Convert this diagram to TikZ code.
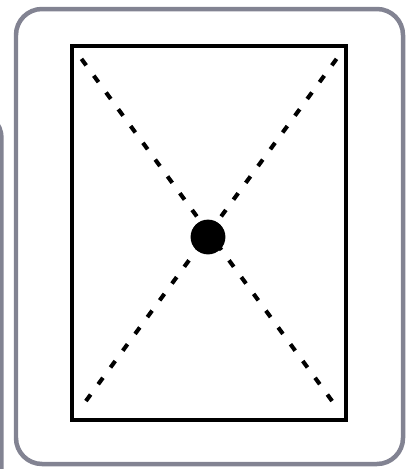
\documentclass[tikz,border=0pt]{standalone}
\definecolor{frameGray}{RGB}{130,131,146}
\begin{document}
\begin{tikzpicture}[x=0.025cm,y=-0.025cm,
    frame/.style={draw=frameGray,line width=3.2pt,rounded corners=0.65cm},
    diag/.style={line width=2.9pt,dash pattern=on 0.2cm off 0.32cm,
        shorten <=0.4cm,shorten >=0.35cm},
    dot/.style={circle,fill=black,inner sep=0pt,minimum size=0.87cm}]
            \useasboundingbox (0,0) rectangle (413,469);
            \draw[frame] (-40,112) -- (1.5,112) -- (1.5,500);
            \draw[frame] (16,9) rectangle (403,464);
            \coordinate (tl) at (72,46);
            \coordinate (tr) at (346,46);
            \coordinate (br) at (346,420);
            \coordinate (bl) at (72,420);
            \draw[line width=2.6pt] (tl) rectangle (br);
            \draw[diag] (tl) -- (br);
            \draw[diag] (tr) -- (bl);
            \node[dot] (centre) at (208,237) {};
        \end{tikzpicture}
\end{document}
